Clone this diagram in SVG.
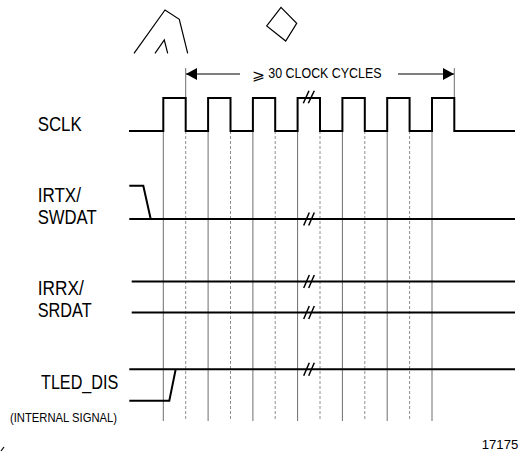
<svg xmlns="http://www.w3.org/2000/svg" width="520" height="454" viewBox="0 0 520 454">
<style>
  .lbl{font-family:"Liberation Sans",Arial,sans-serif;fill:#000;}
  .big{font-size:19.5px;}
  .sig{fill:none;stroke:#000;stroke-width:2;stroke-linejoin:miter;}
  .grid{fill:none;stroke:#6e6e6e;stroke-width:1;}
  .dash{fill:none;stroke:#8e8e8e;stroke-width:1;stroke-dasharray:3 2;}
  .brk{fill:none;stroke:#000;stroke-width:1.5;}
  .deco{fill:none;stroke:#000;stroke-width:1.2;}
</style>
<defs>
  <marker id="ah" markerWidth="11" markerHeight="12" refX="11" refY="6" orient="auto" markerUnits="userSpaceOnUse">
    <path d="M0,0 L11,6 L0,12 Z" fill="#000"/>
  </marker>
</defs>
<rect width="520" height="454" fill="#fff"/>

<g id="decorations">
  <polyline class="deco" points="134,53.3 165,10 179.3,19.3 187.7,53.3"/>
  <polyline class="deco" points="155,53.3 164.3,40 167.7,53.3"/>
  <polygon class="deco" points="281,7.3 296.7,23.3 285.7,41 266.7,26"/>
  <path class="deco" d="M1,451 L4,447"/>
</g>

<g id="connectors">
  <g id="grid">
    <path class="grid" d="M163.3,131V421 M208.1,131V421 M252.9,131V421 M297.6,131V421 M342.4,131V421 M387.2,131V421 M432,131V421"/>
    <path class="dash" d="M185.7,131V421 M230.5,131V421 M275.2,131V421 M320,131V421 M364.8,131V421 M409.6,131V421"/>
    <path class="grid" d="M185.7,68V98 M454.3,68V98"/>
  </g>
  <g id="span-arrow">
    <line x1="240" y1="74" x2="186" y2="74" stroke="#000" stroke-width="1.2" marker-end="url(#ah)"/>
    <line x1="398" y1="74" x2="454" y2="74" stroke="#000" stroke-width="1.2" marker-end="url(#ah)"/>
  </g>
</g>

<g id="sclk">
  <text class="lbl big" x="37.7" y="130.7" textLength="44" lengthAdjust="spacingAndGlyphs">SCLK</text>
  <polyline class="sig" points="129,131 163.3,131 163.3,98 185.7,98 185.7,131 208.1,131 208.1,98 230.5,98 230.5,131 252.9,131 252.9,98 275.2,98 275.2,131 297.6,131 297.6,98 320,98 320,131 342.4,131 342.4,98 364.8,98 364.8,131 387.2,131 387.2,98 409.6,98 409.6,131 432,131 432,98 454.3,98 454.3,131 515,131"/>
  <path class="brk" d="M303.3,103.3 L309,90.7 M308.3,103.3 L314.3,90.7"/>
</g>

<g id="irtx">
  <text class="lbl big" x="37.7" y="201.7" textLength="43.3" lengthAdjust="spacingAndGlyphs">IRTX/</text>
  <text class="lbl big" x="37.7" y="224.3" textLength="59" lengthAdjust="spacingAndGlyphs">SWDAT</text>
  <polyline class="sig" points="129.3,185.7 143.3,185.7 150.7,219"/>
  <line class="sig" x1="129.3" y1="219" x2="515" y2="219"/>
  <path class="brk" d="M303.7,225.5 L309.3,212.5 M308.7,225.5 L314.3,212.5"/>
</g>

<g id="irrx">
  <text class="lbl big" x="37.7" y="294.5" textLength="46" lengthAdjust="spacingAndGlyphs">IRRX/</text>
  <text class="lbl big" x="37.7" y="317" textLength="54" lengthAdjust="spacingAndGlyphs">SRDAT</text>
  <line class="sig" x1="131.7" y1="281.5" x2="515" y2="281.5"/>
  <line class="sig" x1="131.7" y1="312.5" x2="515" y2="312.5"/>
  <path class="brk" d="M303.7,288 L309.3,275 M308.7,288 L314.3,275"/>
  <path class="brk" d="M303.7,319 L309.3,306 M308.7,319 L314.3,306"/>
</g>

<g id="tled">
  <text class="lbl big" x="41" y="389.3" textLength="77.3" lengthAdjust="spacingAndGlyphs">TLED_DIS</text>
  <text class="lbl" x="10" y="421.5" font-size="13" textLength="107" lengthAdjust="spacingAndGlyphs">(INTERNAL SIGNAL)</text>
  <line class="sig" x1="129.3" y1="369.3" x2="515" y2="369.3"/>
  <polyline class="sig" points="129.3,400.7 169.3,400.7 175.7,369.3"/>
  <path class="brk" d="M303.7,375.8 L309.3,362.8 M308.7,375.8 L314.3,362.8"/>
</g>

<g id="labels">
  <text x="251.7" y="79.5" font-family="'DejaVu Sans',sans-serif" font-size="14.5" fill="#000" textLength="13" lengthAdjust="spacingAndGlyphs">⩾</text>
  <text class="lbl" x="268.3" y="78.3" font-size="14" textLength="113.3" lengthAdjust="spacingAndGlyphs">30 CLOCK CYCLES</text>
  <text class="lbl" x="481.7" y="449" font-size="12" textLength="36.6" lengthAdjust="spacingAndGlyphs">17175</text>
</g>
</svg>
